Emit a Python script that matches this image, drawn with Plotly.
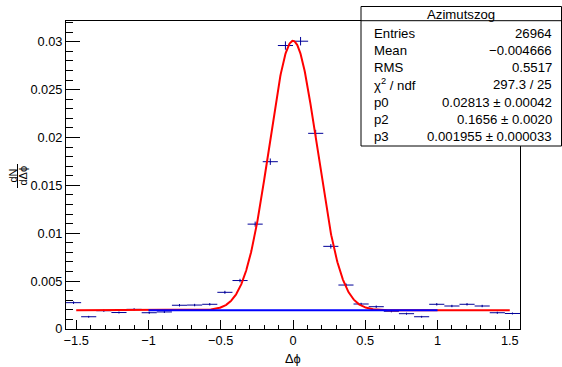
import numpy as np
import plotly.graph_objects as go

# ---------------- data ----------------
nbins = 30
x_low = -np.pi / 2
x_high = np.pi / 2

values = [0.00275, 0.00128, 0.00191, 0.00172, 0.00205, 0.00170, 0.00178, 0.00248,
          0.00250, 0.00258, 0.00383, 0.00506, 0.01095, 0.01747, 0.02960, 0.03005,
          0.02043, 0.00863, 0.00459, 0.00261, 0.00233, 0.00185, 0.00160, 0.00128,
          0.00258, 0.00240, 0.00258, 0.00240, 0.00170, 0.00162]
errors = [0.000133, 0.000091, 0.000111, 0.000105, 0.000115, 0.000105, 0.000107, 0.000127,
          0.000127, 0.000129, 0.000157, 0.000181, 0.000266, 0.000336, 0.000437, 0.000441,
          0.000363, 0.000236, 0.000172, 0.000130, 0.000123, 0.000109, 0.000102, 0.000091,
          0.000129, 0.000125, 0.000129, 0.000125, 0.000105, 0.000102]

# fit parameters (gaus + const)
p0 = 0.02813
p1 = 0.0
p2 = 0.1656
p3 = 0.001955
fit_range = [-1.5, 1.5]
bkg_range = [-1.0, 1.0]

x_tickvals = [-1.5, -1.0, -0.5, 0.0, 0.5, 1.0, 1.5]
x_ticktext = ["\u22121.5", "\u22121", "\u22120.5", "0", "0.5", "1", "1.5"]
y_tickvals = [0, 0.005, 0.01, 0.015, 0.02, 0.025, 0.03]
y_ticktext = ["0", "0.005", "0.01", "0.015", "0.02", "0.025", "0.03"]

stats_title = "Azimutszog"
stats_labels = ["Entries", "Mean", "RMS", "\u03c7<sup>2</sup> / ndf", "p0", "p2", "p3"]
stats_values = ["26964", "\u22120.004666", "0.5517", "297.3 / 25",
                "0.02813 \u00b1 0.00042", "0.1656 \u00b1 0.0020", "0.001955 \u00b1 0.000033"]

# ---------------- figure ----------------
W, H = 562, 367
ML, MR, MT, MB = 66, 42, 21, 38
PW, PH = W - ML - MR, H - MT - MB
FONT = "Liberation Sans, Arial, Helvetica, sans-serif"


def px(xp):
    return (xp - ML) / PW


def py(yp):
    return (H - MB - yp) / PH


bin_width = (x_high - x_low) / nbins
centers = x_low + bin_width * (np.arange(nbins) + 0.5)

fig = go.Figure()
fig.add_trace(go.Scatter(
    x=centers, y=values, mode="markers",
    marker=dict(size=1, color="#000099"),
    error_x=dict(type="constant", value=bin_width / 2, color="#000099", thickness=1, width=0),
    error_y=dict(type="data", array=errors, color="#000099", thickness=1, width=0),
    hoverinfo="skip", showlegend=False,
))

xf = np.linspace(fit_range[0], fit_range[1], 1201)
yf = p0 * np.exp(-0.5 * ((xf - p1) / p2) ** 2) + p3
fig.add_trace(go.Scatter(x=xf, y=yf, mode="lines", line=dict(color="#ff0000", width=2),
                         hoverinfo="skip", showlegend=False))
fig.add_trace(go.Scatter(x=bkg_range, y=[p3, p3], mode="lines", line=dict(color="#0000ff", width=2),
                         hoverinfo="skip", showlegend=False))

fig.update_layout(
    width=W, height=H, autosize=False,
    margin=dict(l=ML, r=MR, t=MT, b=MB, pad=0),
    paper_bgcolor="white", plot_bgcolor="white",
    font=dict(family=FONT, size=12.8, color="black"),
    xaxis=dict(range=[x_low, x_high], showgrid=False, zeroline=False,
               showline=True, linecolor="black", linewidth=1, mirror=True,
               ticks="inside", ticklen=9, tickcolor="black", tickwidth=1,
               tickmode="array", tickvals=x_tickvals, ticktext=x_ticktext,
               tickfont=dict(family=FONT, size=12.8, color="black"),
               minor=dict(ticks="inside", ticklen=4.5, tickcolor="black", tickmode="linear",
                          tick0=0, dtick=0.1, showgrid=False)),
    yaxis=dict(range=[0, 0.03216], showgrid=False, zeroline=False,
               showline=True, linecolor="black", linewidth=1, mirror=True,
               ticks="inside", ticklen=14, tickcolor="black", tickwidth=1,
               tickmode="array", tickvals=y_tickvals, ticktext=y_ticktext,
               tickfont=dict(family=FONT, size=12.8, color="black"),
               minor=dict(ticks="inside", ticklen=7, tickcolor="black", tickmode="linear",
                          tick0=0, dtick=0.001, showgrid=False)),
)

annotations = []
shapes = []

# x axis title
annotations.append(dict(text="\u0394\u03d5", x=0, xref="x", y=py(358), yref="paper",
                        showarrow=False, xanchor="center", yanchor="middle",
                        font=dict(family=FONT, size=12.8, color="black")))
# y axis title (fraction dN / dΔϕ, rotated)
annotations.append(dict(text="dN", x=px(12.5), xref="paper", y=py(176), yref="paper",
                        showarrow=False, textangle=-90, xanchor="center", yanchor="middle",
                        font=dict(family=FONT, size=11, color="black")))
annotations.append(dict(text="d\u0394\u03d5", x=px(22.5), xref="paper", y=py(176), yref="paper",
                        showarrow=False, textangle=-90, xanchor="center", yanchor="middle",
                        font=dict(family=FONT, size=11, color="black")))
shapes.append(dict(type="line", xref="paper", yref="paper", x0=px(17.5), x1=px(17.5),
                   y0=py(164), y1=py(188), line=dict(color="black", width=1), layer="above"))

# stats box
bx0, bx1, by0, by1 = 361, 561.5, 6.5, 146
SF = 13.2
shapes.append(dict(type="rect", xref="paper", yref="paper", x0=px(bx0), x1=px(bx1),
                   y0=py(by1), y1=py(by0), fillcolor="white",
                   line=dict(color="black", width=1), layer="above"))
shapes.append(dict(type="line", xref="paper", yref="paper", x0=px(bx0), x1=px(bx1),
                   y0=py(20.7), y1=py(20.7), line=dict(color="black", width=1), layer="above"))
annotations.append(dict(text=stats_title, x=px((bx0 + bx1) / 2), xref="paper", y=py(14), yref="paper",
                        showarrow=False, xanchor="center", yanchor="middle",
                        font=dict(family=FONT, size=SF, color="black")))
for i, (lab, val) in enumerate(zip(stats_labels, stats_values)):
    yy = py(33.3 + 17.2 * i)
    annotations.append(dict(text=lab, x=px(371.5), xref="paper", y=yy, yref="paper",
                            showarrow=False, xanchor="left", yanchor="middle",
                            font=dict(family=FONT, size=SF, color="black")))
    annotations.append(dict(text=val, x=px(554), xref="paper", y=yy, yref="paper",
                            showarrow=False, xanchor="right", yanchor="middle",
                            font=dict(family=FONT, size=SF, color="black")))

fig.update_layout(annotations=annotations, shapes=shapes)
fig.write_html("out.html")
